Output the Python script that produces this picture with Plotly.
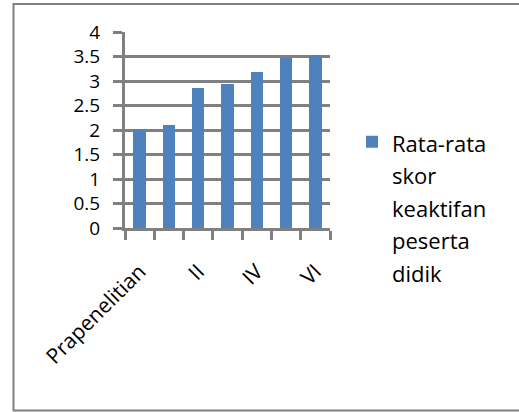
import plotly.graph_objects as go

# Data
categories = ["Prapenelitian", "I", "II", "III", "IV", "V", "VI"]
scores = [2.03, 2.10, 2.85, 2.93, 3.18, 3.46, 3.53]
series_name = ["Rata-rata", "skor", "keaktifan", "peserta", "didik"]
y_ticks = [0, 0.5, 1, 1.5, 2, 2.5, 3, 3.5, 4]
y_labels = ["0", "0.5", "1", "1.5", "2", "2.5", "3", "3.5", "4"]

# Styling
BAR = "#4F81BD"
GRID = "#808080"
FONT = "Open Sans"
W, H = 519, 412
ML, MR, MT, MB = 125, 189, 32, 184

positions = list(range(len(categories)))
boundaries = [p - 0.5 for p in positions] + [positions[-1] + 0.5]

legend_text = "<br>".join(
    f"<span style='font-size:22px'>{w}</span>" for w in series_name
)

fig = go.Figure(
    go.Bar(
        x=positions,
        y=scores,
        width=0.42,
        marker=dict(color=BAR, line=dict(width=0)),
        name=legend_text,
        showlegend=True,
    )
)

# frame around the whole chart, in paper units of the plot area
pw, ph = W - ML - MR, H - MT - MB
def px_x(v):
    return (v - ML) / pw
def px_y(v):
    return (H - MB - v) / ph

fig.add_shape(
    type="rect", xref="paper", yref="paper",
    x0=px_x(13.5), x1=px_x(W + 10), y0=px_y(H - 1.5), y1=px_y(4),
    line=dict(color=GRID, width=2), fillcolor="rgba(0,0,0,0)", layer="below",
)

fig.update_layout(
    width=W, height=H,
    margin=dict(l=ML, r=MR, t=MT, b=MB),
    paper_bgcolor="white", plot_bgcolor="white",
    font=dict(family=FONT, size=20, color="black"),
    bargap=0,
    legend=dict(
        x=px_x(352), y=px_y(119), xanchor="left", yanchor="top",
        font=dict(size=25, family=FONT, color="black"),
        valign="top", bgcolor="rgba(0,0,0,0)", borderwidth=0,
        itemclick=False,
    ),
    xaxis=dict(
        range=[boundaries[0], boundaries[-1]],
        tickmode="array",
        tickvals=positions[::2],
        ticktext=categories[::2],
        tickangle=-45,
        ticks="",
        ticklabelstandoff=20,
        tickfont=dict(size=21),
        showgrid=False, zeroline=False,
        showline=True, linecolor=GRID, linewidth=3,
        minor=dict(
            tickmode="array", tickvals=boundaries,
            ticks="outside", ticklen=9, tickwidth=3, tickcolor=GRID,
            showgrid=False,
        ),
    ),
    yaxis=dict(
        range=[0, 4],
        tickmode="array", tickvals=y_ticks, ticktext=y_labels,
        ticks="outside", ticklen=9, tickwidth=3, tickcolor=GRID,
        ticklabelstandoff=9,
        tickfont=dict(size=19),
        showgrid=True, gridcolor=GRID, gridwidth=3,
        zeroline=False,
        showline=True, linecolor=GRID, linewidth=3,
    ),
)

fig.write_html("out.html")
